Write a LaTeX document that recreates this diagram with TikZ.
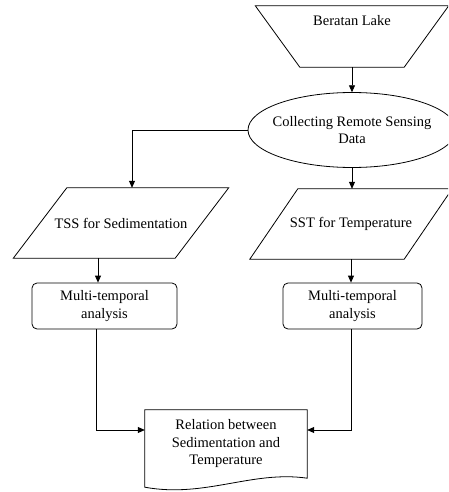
\documentclass[tikz,border=0pt]{standalone}
\usepackage{fontspec}
\setmainfont{Liberation Serif}
\usetikzlibrary{arrows.meta,shapes.geometric,calc}
\begin{document}
\begin{tikzpicture}[x=1pt,y=-1pt,
  every node/.style={font=\fontsize{14.5}{17.5}\selectfont, inner sep=0pt, align=center},
  ln/.style={line width=0.8pt, draw=black},
  arr/.style={ln, -{Triangle[length=7pt,width=6pt]}},
  shapebox/.style={draw=none, shape=rectangle},
  roundbox/.style={ln, shape=rectangle, rounded corners=5pt, minimum height=46pt}
]
\clip (0,0) rectangle (448,492);
% top trapezoid
\node[shapebox, minimum width=193pt, minimum height=61pt] (lake) at (352,36.5) {};
\node (laketext) at (352,21) {Beratan Lake};
\draw[ln] (lake.north west) -- (lake.north east)
  -- ($(lake.south east)+(-44.5,0)$) -- ($(lake.south west)+(44.5,0)$) -- cycle;
% ellipse
\node[shapebox, minimum width=208pt, minimum height=75pt] (ell) at (352,130) {Collecting Remote Sensing\\Data};
\draw[ln] (ell.center) ellipse [x radius=104, y radius=37.5];
% parallelograms
\node[shapebox, minimum width=215pt, minimum height=70pt] (tss) at (121,223) {TSS for Sedimentation};
\draw[ln] ($(tss.north west)+(53.5,0)$) -- (tss.north east)
  -- ($(tss.south east)+(-53.5,0)$) -- (tss.south west) -- cycle;
\node[shapebox, minimum width=202pt, minimum height=70pt] (sst) at (351,224) {SST for Temperature};
\draw[ln] ($(sst.north west)+(48,0)$) -- (sst.north east)
  -- ($(sst.south east)+(-48,0)$) -- (sst.south west) -- cycle;
% analysis boxes
\node[roundbox, minimum width=145pt] (boxL) at (104.5,306) {Multi-temporal\\analysis};
\node[roundbox, minimum width=139pt] (boxR) at (352.5,306) {Multi-temporal\\analysis};
% document
\node[shapebox, minimum width=162pt, minimum height=68pt] (doc) at (226,444) {Relation between\\Sedimentation and\\Temperature};
\draw[ln] (doc.south west) ++(0,9) coordinate (docbl)
  (doc.north west) -- (doc.north east) -- (doc.south east)
  .. controls ($(doc.south east)+(-55,-8)$) and ($(doc.south west)+(60,20)$) .. (docbl) -- cycle;
% connectors
\draw[arr] (lake.south) -- (ell.north);
\draw[arr] (ell.west) -| ([xshift=11pt]tss.north);
\draw[arr] (ell.south) -- (ell.south |- sst.north);
\draw[arr] ([xshift=-23pt]tss.south) -- ([xshift=-6.5pt]boxL.north);
\draw[arr] (sst.south) -- (sst.south |- boxR.north);
\draw[arr] ([xshift=-8.5pt]boxL.south) |- ([yshift=14pt]doc.west);
\draw[arr] ([xshift=-1.5pt]boxR.south) |- ([yshift=14pt]doc.east);
\end{tikzpicture}
\end{document}
